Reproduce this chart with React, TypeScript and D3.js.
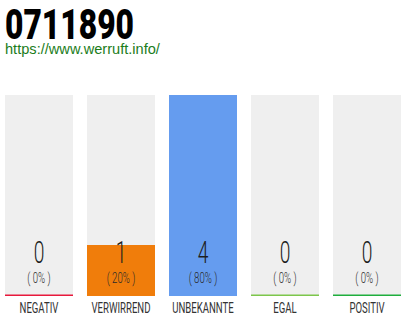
import React from "react";
import * as d3 from "d3";

const title = "0711890";
const siteUrl = "https://www.werruft.info/";
const categories = ["NEGATIV", "VERWIRREND", "UNBEKANNTE", "EGAL", "POSITIV"];
const counts = [0, 1, 4, 0, 0];
const percents = [0, 20, 80, 0, 0];
const barColors = ["#e8193c", "#f07d0b", "#659cef", "#7dc64b", "#1fae3d"];

const W = 410;
const H = 320;

export default function App() {
  const x = d3
    .scaleBand<string>()
    .domain(categories)
    .range([5, 401])
    .paddingInner(14 / 82)
    .paddingOuter(0);
  const maxCount = d3.max(counts) || 1;
  const y = d3.scaleLinear().domain([0, maxCount]).range([295, 95]);
  const bw = x.bandwidth();
  const thin = "Roboto, 'Noto Sans', sans-serif";

  return (
    <div style={{ position: "fixed", left: 0, top: 0, width: W, height: H, background: "#fff" }}>
      <svg width={W} height={H} viewBox={`0 0 ${W} ${H}`}>
        <text
          transform="translate(5,39) scale(0.74,1)"
          fontFamily={thin}
          fontWeight={900}
          fontSize={43}
          fill="#000"
        >
          {title}
        </text>
        <text x={5} y={54} fontFamily="'Liberation Sans', Arial, sans-serif" fontSize={14.6} fill="#1b7d1b">
          {siteUrl}
        </text>
        {categories.map((c, i) => {
          const x0 = x(c) as number;
          const cx = x0 + bw / 2;
          const v = counts[i];
          return (
            <g key={c}>
              <rect x={x0} y={y(maxCount)} width={bw} height={y(0) - y(maxCount)} fill="#efefef" />
              {v > 0 && (
                <rect x={x0} y={y(v)} width={bw} height={y(0) - y(v) + 1} fill={barColors[i]} />
              )}
              <rect x={x0} y={y(0) - 0.5} width={bw} height={1.5} fill={barColors[i]} />
              <text
                transform={`translate(${cx},263) scale(0.62,1)`}
                textAnchor="middle"
                fontFamily={thin}
                fontWeight={300}
                fontSize={31}
                fill="#1e1e1e"
              >
                {v}
              </text>
              <text
                transform={`translate(${cx},283) scale(0.62,1)`}
                textAnchor="middle"
                fontFamily={thin}
                fontWeight={300}
                fontSize={15.5}
                fill="#2a2a2a"
              >
                {`( ${percents[i]}% )`}
              </text>
              <text
                transform={`translate(${cx},313) scale(0.64,1)`}
                textAnchor="middle"
                fontFamily={thin}
                fontWeight={400}
                fontSize={15}
                fill="#333"
              >
                {c}
              </text>
            </g>
          );
        })}
      </svg>
    </div>
  );
}
